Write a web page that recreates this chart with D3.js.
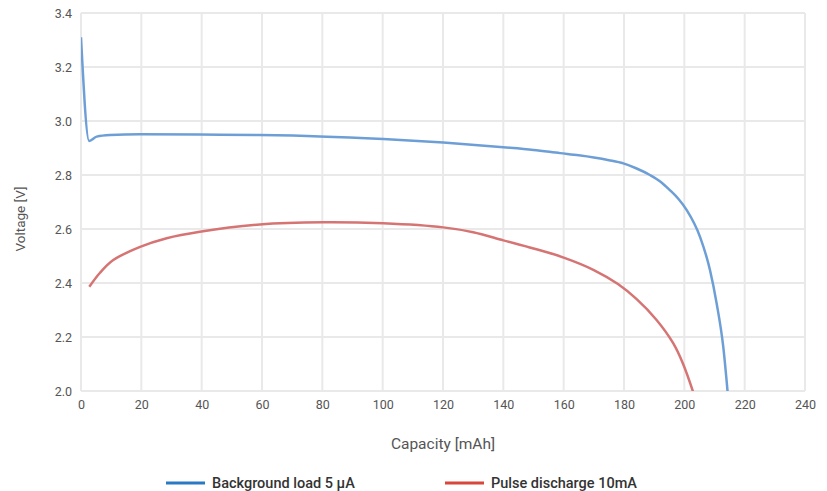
<!DOCTYPE html>
<html>
<head>
<meta charset="utf-8">
<script src="https://cdn.jsdelivr.net/npm/d3@7"></script>
<style>
  body { margin: 0; background: #fff; }
  svg { display: block; font-family: "Roboto", "DejaVu Sans", sans-serif; }
</style>
</head>
<body>
<svg id="chart" width="827" height="491"></svg>
<script>
// capacity [mAh] / voltage [V]
const bgCapacity = [0, 2.7, 5.2, 9.6, 19.6, 39.4, 59, 79.2, 100.2, 120.1, 140, 150, 158.8, 165, 170, 175, 179.8, 184, 188.6, 192, 195.2, 198, 200.8, 205.2, 208.5, 210.7, 212.9, 214.4];
const bgVoltage  = [3.31, 2.926, 2.942, 2.948, 2.951, 2.950, 2.948, 2.943, 2.933, 2.920, 2.903, 2.893, 2.881, 2.873, 2.865, 2.855, 2.843, 2.825, 2.80, 2.776, 2.744, 2.712, 2.670, 2.571, 2.448, 2.325, 2.164, 1.99];

const pulseCapacity = [2.75, 6.3, 10.7, 19.6, 28.4, 39.4, 59.3, 80.3, 100.2, 120.1, 130, 140, 150, 160, 170, 178, 184.2, 190.8, 196.3, 199.6, 203.1];
const pulseVoltage  = [2.386, 2.438, 2.485, 2.534, 2.566, 2.590, 2.617, 2.625, 2.621, 2.606, 2.588, 2.558, 2.528, 2.494, 2.448, 2.396, 2.340, 2.263, 2.177, 2.10, 1.99];

const xTicks = [0, 20, 40, 60, 80, 100, 120, 140, 160, 180, 200, 220, 240];
const yTicks = [2.0, 2.2, 2.4, 2.6, 2.8, 3.0, 3.2, 3.4];

const seriesNames = ["Background load 5 µA", "Pulse discharge 10mA"];

const svg = d3.select("#chart");
const margin = { top: 13, right: 22, bottom: 100, left: 81 };
const width = 827 - margin.left - margin.right;
const height = 491 - margin.top - margin.bottom;

const x = d3.scaleLinear().domain([0, 240]).range([margin.left, margin.left + width]);
const y = d3.scaleLinear().domain([2.0, 3.4]).range([margin.top + height, margin.top]);

// clip so curves stop at the bottom of the plot
svg.append("defs").append("clipPath").attr("id", "plot")
  .append("rect")
  .attr("x", margin.left).attr("y", margin.top)
  .attr("width", width).attr("height", height);

// grid
const grid = svg.append("g").attr("stroke", "#e9e9e9").attr("stroke-width", 2);
grid.selectAll(".vx").data(xTicks).join("line")
  .attr("x1", (d) => x(d)).attr("x2", (d) => x(d))
  .attr("y1", margin.top).attr("y2", margin.top + height);
grid.selectAll(".hy").data(yTicks).join("line")
  .attr("x1", margin.left).attr("x2", margin.left + width)
  .attr("y1", (d) => y(d)).attr("y2", (d) => y(d));

// x axis labels
svg.append("g")
  .attr("transform", `translate(0,${margin.top + height})`)
  .call(d3.axisBottom(x).tickValues(xTicks).tickSize(0).tickPadding(9).tickFormat(d3.format("d")))
  .call((g) => g.select(".domain").remove())
  .selectAll("text")
  .attr("fill", "#555")
  .attr("font-size", 12.5)
  .style("font-family", "Roboto, sans-serif");

// y axis labels
svg.append("g")
  .attr("transform", `translate(${margin.left},0)`)
  .call(d3.axisLeft(y).tickValues(yTicks).tickSize(0).tickPadding(9).tickFormat(d3.format(".1f")))
  .call((g) => g.select(".domain").remove())
  .selectAll("text")
  .attr("fill", "#555")
  .attr("font-size", 12.5)
  .style("font-family", "Roboto, sans-serif");

// axis titles
svg.append("text")
  .attr("x", margin.left + width / 2)
  .attr("y", 449)
  .attr("text-anchor", "middle")
  .attr("fill", "#555")
  .attr("font-size", 15.5)
  .text("Capacity [mAh]");

svg.append("text")
  .attr("transform", `translate(25,${margin.top + height / 2 + 17}) rotate(-90)`)
  .attr("text-anchor", "middle")
  .attr("fill", "#555")
  .attr("font-size", 13.5)
  .text("Voltage [V]");

// curves
const line = d3.line()
  .x((d) => x(d[0]))
  .y((d) => y(d[1]));

const bgData = bgCapacity.map((c, i) => [c, bgVoltage[i]]);
const pulseData = pulseCapacity.map((c, i) => [c, pulseVoltage[i]]);

const curves = svg.append("g").attr("clip-path", "url(#plot)");
curves.append("path")
  .datum(bgData)
  .attr("fill", "none")
  .attr("stroke", "#6d9fd6")
  .attr("stroke-width", 2.5)
  .attr("d", line.curve(d3.curveMonotoneX));
curves.append("path")
  .datum(pulseData)
  .attr("fill", "none")
  .attr("stroke", "#d67474")
  .attr("stroke-width", 2.5)
  .attr("d", line.curve(d3.curveCatmullRom.alpha(0.5)));

// legend
const legendColors = ["#2a79c4", "#d9463b"];
const legendX = [166, 445];
const legend = svg.append("g")
  .selectAll("g")
  .data(seriesNames)
  .join("g")
  .attr("transform", (d, i) => `translate(${legendX[i]},483)`);
legend.append("line")
  .attr("x1", 0).attr("x2", 39)
  .attr("stroke", (d, i) => legendColors[i])
  .attr("stroke-width", 3);
legend.append("text")
  .attr("x", 46)
  .attr("dy", "0.35em")
  .attr("fill", "#333")
  .attr("font-size", 14.5)
  .attr("font-weight", 500)
  .text((d) => d);
</script>
</body>
</html>
